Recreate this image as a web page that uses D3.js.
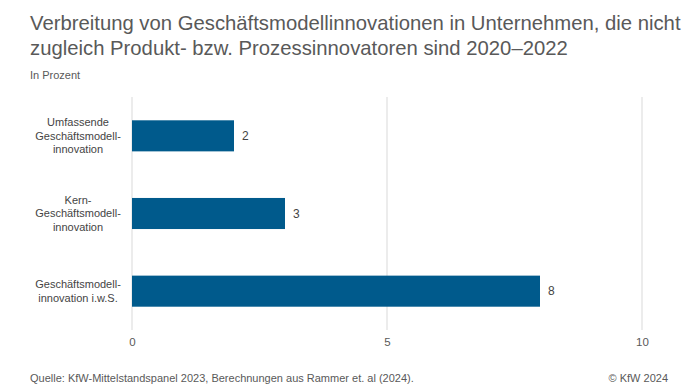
<!DOCTYPE html>
<html>
<head>
<meta charset="utf-8">
<script src="https://cdn.jsdelivr.net/npm/d3@7"></script>
<style>
  body { margin: 0; background: #fff; }
  text { font-family: "Liberation Sans", Arial, sans-serif; }
</style>
</head>
<body>
<script>
// data
const categories = [
  ["Umfassende", "Geschäftsmodell-", "innovation"],
  ["Kern-", "Geschäftsmodell-", "innovation"],
  ["Geschäftsmodell-", "innovation i.w.S."]
];
const values = [2, 3, 8];
const xTicks = [0, 5, 10];

const W = 696, H = 392;
const svg = d3.select('body').append('svg')
  .attr('width', W)
  .attr('height', H);

// title
const title = svg.append('text')
  .attr('x', 30)
  .attr('fill', '#595959')
  .style('font-size', '20.3px');
title.append('tspan').attr('x', 30).attr('y', 30)
  .text('Verbreitung von Geschäftsmodellinnovationen in Unternehmen, die nicht');
title.append('tspan').attr('x', 30).attr('y', 55)
  .text('zugleich Produkt- bzw. Prozessinnovatoren sind 2020–2022');

svg.append('text')
  .attr('x', 30).attr('y', 79)
  .attr('fill', '#595959')
  .style('font-size', '11px')
  .text('In Prozent');

const xScale = d3.scaleLinear()
  .domain([0, 10])
  .range([132, 642]);

const yScale = d3.scaleBand()
  .domain(d3.range(values.length))
  .range([97, 330])
  .paddingInner(0.6)
  .paddingOuter(0.3);

// grid lines
svg.append('g')
  .selectAll('line')
  .data(xTicks)
  .enter()
  .append('line')
  .attr('x1', d => xScale(d))
  .attr('x2', d => xScale(d))
  .attr('y1', 97)
  .attr('y2', 330)
  .attr('stroke', '#d9d9d9')
  .attr('stroke-width', 1);

// x axis labels
const xAxis = d3.axisBottom(xScale).tickValues(xTicks).tickSize(0).tickPadding(8);
const xAxisGroup = svg.append('g')
  .attr('transform', 'translate(0, 330)')
  .call(xAxis);
xAxisGroup.select('.domain').remove();
xAxisGroup.selectAll('text')
  .attr('fill', '#595959')
  .style('font-size', '11.5px')
  .style('font-family', '"Liberation Sans", Arial, sans-serif');

// bars
svg.selectAll('rect.bar')
  .data(values)
  .enter()
  .append('rect')
  .attr('class', 'bar')
  .attr('x', xScale(0))
  .attr('y', (d, i) => yScale(i))
  .attr('width', d => xScale(d) - xScale(0))
  .attr('height', yScale.bandwidth())
  .attr('fill', '#005a8c');

// value labels
svg.selectAll('text.val')
  .data(values)
  .enter()
  .append('text')
  .attr('class', 'val')
  .attr('x', d => xScale(d) + 8)
  .attr('y', (d, i) => yScale(i) + yScale.bandwidth() / 2)
  .attr('dy', '0.35em')
  .attr('fill', '#444')
  .style('font-size', '12px')
  .text(d => d);

// category labels
const lineH = 13.5;
categories.forEach((lines, i) => {
  const cy = yScale(i) + yScale.bandwidth() / 2;
  const t = svg.append('text')
    .attr('text-anchor', 'middle')
    .attr('fill', '#444')
    .style('font-size', '11px');
  lines.forEach((ln, j) => {
    t.append('tspan')
      .attr('x', 78)
      .attr('y', cy + (j - (lines.length - 1) / 2) * lineH)
      .attr('dy', '0.35em')
      .text(ln);
  });
});

// footer
svg.append('text')
  .attr('x', 30).attr('y', 382)
  .attr('fill', '#595959')
  .style('font-size', '11px')
  .text('Quelle: KfW-Mittelstandspanel 2023, Berechnungen aus Rammer et. al (2024).');
svg.append('text')
  .attr('x', 668).attr('y', 382)
  .attr('text-anchor', 'end')
  .attr('fill', '#595959')
  .style('font-size', '11px')
  .text('© KfW 2024');
</script>
</body>
</html>
